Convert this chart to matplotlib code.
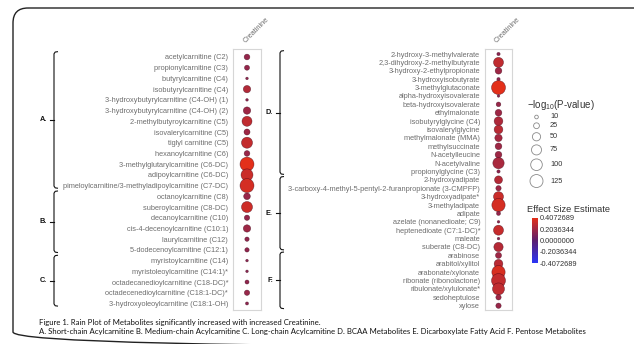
import numpy as np
import matplotlib
matplotlib.use("Agg")
import matplotlib.pyplot as plt
from matplotlib.colors import LinearSegmentedColormap, Normalize
from matplotlib.cm import ScalarMappable
from matplotlib.patches import FancyBboxPatch

plt.rcParams['font.family'] = ['Liberation Sans', 'DejaVu Sans']
plt.rcParams['mathtext.fontset'] = 'custom'
plt.rcParams['mathtext.rm'] = 'Liberation Sans'
plt.rcParams['mathtext.it'] = 'Liberation Sans:italic'

# ---------------- data ----------------
exposure = ["Creatinine"]

left_metabolites = [
    "acetylcarnitine (C2)", "propionylcarnitine (C3)", "butyrylcarnitine (C4)",
    "isobutyrylcarnitine (C4)", "3-hydroxybutyrylcarnitine (C4-OH) (1)",
    "3-hydroxybutyrylcarnitine (C4-OH) (2)", "2-methylbutyroylcarnitine (C5)",
    "isovalerylcarnitine (C5)", "tiglyl carnitine (C5)", "hexanoylcarnitine (C6)",
    "3-methylglutarylcarnitine (C6-DC)", "adipoylcarnitine (C6-DC)",
    "pimeloylcarnitine/3-methyladipoylcarnitine (C7-DC)",
    "octanoylcarnitine (C8)", "suberoylcarnitine (C8-DC)", "decanoylcarnitine (C10)",
    "cis-4-decenoylcarnitine (C10:1)", "laurylcarnitine (C12)",
    "5-dodecenoylcarnitine (C12:1)",
    "myristoylcarnitine (C14)", "myristoleoylcarnitine (C14:1)*",
    "octadecanedioylcarnitine (C18-DC)*", "octadecenedioylcarnitine (C18:1-DC)*",
    "3-hydroxyoleoylcarnitine (C18:1-OH)",
]
left_neglogp = [24, 19, 5, 40, 5, 40, 74, 27, 90, 24, 145, 106, 145,
                33, 90, 21, 40, 14, 14,
                5, 5, 12, 21, 7]
left_effect = [0.17, 0.17, 0.15, 0.26, 0.15, 0.20, 0.30, 0.20, 0.31, 0.18, 0.407, 0.33, 0.36,
               0.18, 0.34, 0.17, 0.20, 0.16, 0.16,
               0.14, 0.14, 0.16, 0.18, 0.15]
left_groups = [("A.", 0, 12), ("B.", 13, 18), ("C.", 19, 23)]

right_metabolites = [
    "2-hydroxy-3-methylvalerate", "2,3-dihydroxy-2-methylbutyrate",
    "3-hydroxy-2-ethylpropionate", "3-hydroxyisobutyrate", "3-methylglutaconate",
    "alpha-hydroxyisovalerate", "beta-hydroxyisovalerate", "ethylmalonate",
    "isobutyrylglycine (C4)", "isovalerylglycine", "methylmalonate (MMA)",
    "methylsuccinate", "N-acetylleucine", "N-acetylvaline", "propionylglycine (C3)",
    "2-hydroxyadipate", "3-carboxy-4-methyl-5-pentyl-2-furanpropionate (3-CMPFP)",
    "3-hydroxyadipate*", "3-methyladipate", "adipate", "azelate (nonanedioate; C9)",
    "heptenedioate (C7:1-DC)*", "maleate", "suberate (C8-DC)",
    "arabinose", "arabitol/xylitol", "arabonate/xylonate", "ribonate (ribonolactone)",
    "ribulonate/xylulonate*", "sedoheptulose", "xylose",
]
right_neglogp = [8, 74, 33, 8, 145, 5, 16, 33, 56, 56, 40, 33, 33, 95, 8,
                 47, 21, 74, 131, 12, 5, 74, 5, 64,
                 27, 56, 131, 145, 106, 21, 21]
right_effect = [0.14, 0.30, 0.20, 0.15, 0.407, 0.14, 0.18, 0.20, 0.25, 0.28, 0.22, 0.20, 0.20, 0.23, 0.15,
                0.27, 0.20, 0.33, 0.36, 0.17, 0.15, 0.32, 0.14, 0.27,
                0.20, 0.28, 0.37, 0.31, 0.30, 0.20, 0.18]
right_groups = [("D.", 0, 14), ("E.", 15, 23), ("F.", 24, 30)]

size_breaks = [10, 25, 50, 75, 100, 125]
effect_limit = 0.4072689
effect_ticks = [effect_limit, effect_limit / 2, 0.0, -effect_limit / 2, -effect_limit]

caption_lines = [
    "Figure 1. Rain Plot of Metabolites significantly increased with increased Creatinine.",
    "A. Short-chain Acylcarnitine B. Medium-chain Acylcarnitine C. Long-chain Acylcarnitine "
    "D. BCAA Metabolites E. Dicarboxylate Fatty Acid F. Pentose Metabolites",
]

# ---------------- styling ----------------
W, H = 634, 344
SIZE_SCALE = 0.7          # marker area (pt^2) per unit of -log10(p)
label_grey = "#6e6e6e"
dark_text = "#333333"
cmap = LinearSegmentedColormap.from_list(
    "effect", ["#2b35f5", "#5c1f6e", "#e3301a"])
norm = Normalize(-effect_limit, effect_limit)

fig = plt.figure(figsize=(W / 100, H / 100), dpi=100)


def frac(x0, y0, x1, y1):
    return [x0 / W, 1 - y1 / H, (x1 - x0) / W, (y1 - y0) / H]


# overlay in pixel units for annotations
over = fig.add_axes([0, 0, 1, 1], zorder=-1)
over.set_xlim(0, W)
over.set_ylim(H, 0)
over.axis("off")

border = FancyBboxPatch((13, 8), 640, 339, boxstyle="round,pad=0,rounding_size=15",
                        fill=False, ec="#222222", lw=1.0)
over.add_patch(border)


def rain_panel(box, ylim, names, neglogp, effect):
    ax = fig.add_axes(frac(*box))
    n = len(names)
    ax.scatter(np.zeros(n), np.arange(n), s=np.array(neglogp) * SIZE_SCALE,
               c=effect, cmap=cmap, norm=norm,
               edgecolors=(0.22, 0.0, 0.08, 0.6), linewidths=0.4, zorder=3)
    ax.set_xlim(-0.5, 0.5)
    ax.set_ylim(*ylim)
    ax.set_yticks(np.arange(n))
    ax.set_yticklabels(names, fontsize=5.3, color=label_grey)
    ax.set_xticks([0])
    ax.xaxis.tick_top()
    ax.set_xticklabels(exposure, rotation=45, ha="left", va="bottom",
                       rotation_mode="anchor", fontsize=5.3, color=label_grey)
    ax.tick_params(length=0, pad=3.5)
    for sp in ax.spines.values():
        sp.set_color("#d6d6d6")
        sp.set_linewidth(0.8)
    return ax


ax_l = rain_panel((233, 49, 261, 310), (23.61, -0.746),
                  left_metabolites, left_neglogp, left_effect)
ax_r = rain_panel((485, 49, 512, 310), (30.51, -0.596),
                  right_metabolites, right_neglogp, right_effect)


def row_px(ax, r):
    return H - ax.transData.transform((0, r))[1]


def brackets(ax, groups, x, top_off, bot_off):
    step = row_px(ax, 1) - row_px(ax, 0)
    for label, first, last in groups:
        top = row_px(ax, first) - top_off * step
        bot = row_px(ax, last) + bot_off * step
        mid = (top + bot) / 2
        over.plot([x + 4, x + 1.2, x, x, x + 1.2, x + 4],
                  [top, top + 0.4, top + 2.2, bot - 2.2, bot - 0.4, bot],
                  color="#111111", lw=0.8, solid_capstyle="butt")
        over.plot([x - 4, x], [mid, mid], color="#111111", lw=0.8)
        over.text(x - 7, mid, label, ha="right", va="center",
                  fontsize=5.3, fontweight="bold", color="#111111")


brackets(ax_l, left_groups, 54, 0.5, 0.25)
brackets(ax_r, right_groups, 280, 0.4, 0.35)

# size legend
over.text(527, 105, r"$-$log$_{10}$(P-value)", ha="left", va="center",
          fontsize=7, color=dark_text)
diam = np.sqrt(np.array(size_breaks) * SIZE_SCALE) / 0.72
ys = [117.0]
for i in range(1, len(size_breaks)):
    ys.append(ys[-1] + (diam[i - 1] + diam[i]) / 2 + 4)
over.scatter(np.full(len(size_breaks), 536.5), ys,
             s=np.array(size_breaks) * SIZE_SCALE,
             facecolors="white", edgecolors="#8a8a8a", linewidths=0.6)
for y, v in zip(ys, size_breaks):
    over.text(550, y, str(v), ha="left", va="center", fontsize=5.3, color=dark_text)

# colour legend
over.text(527, 210, "Effect Size Estimate", ha="left", va="center",
          fontsize=6.7, color=dark_text)
cax = fig.add_axes(frac(532, 218, 538, 263))
cb = fig.colorbar(ScalarMappable(norm=norm, cmap=cmap), cax=cax)
cb.outline.set_visible(False)
cb.set_ticks(effect_ticks)
cb.set_ticklabels([f"{t:.7f}" for t in effect_ticks])
cax.tick_params(length=0, pad=1.5, labelsize=5.3, labelcolor=dark_text)

# caption
for k, line in enumerate(caption_lines):
    over.text(39, 322 + 9.5 * k, line, ha="left", va="center",
              fontsize=5.6, color="#111111", family=["Lato", "DejaVu Sans"])

fig.savefig("out.png", dpi=100)
